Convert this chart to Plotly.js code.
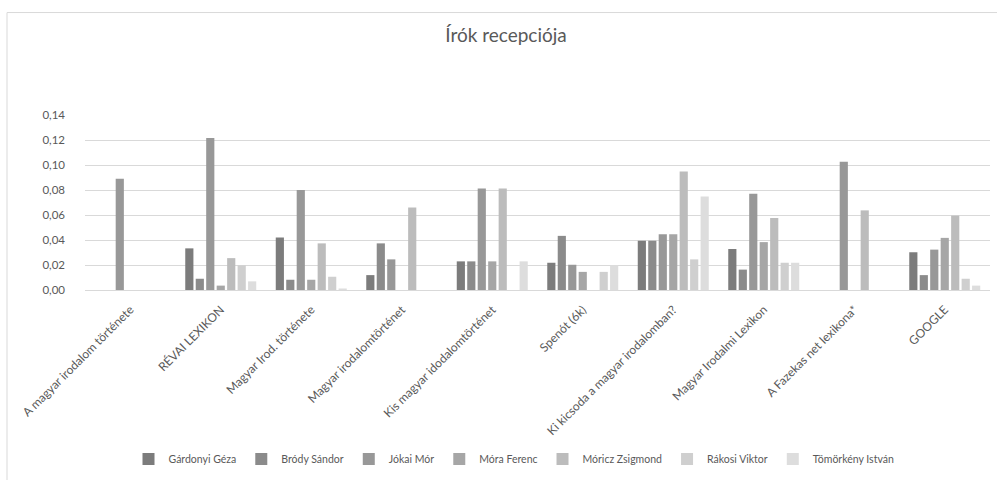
<!DOCTYPE html>
<html>
<head>
<meta charset="utf-8">
<script src="https://cdn.plot.ly/plotly-3.0.1.min.js"></script>
<style>html,body{margin:0;padding:0;background:#fff;}#chart{width:997px;height:480px;}</style>
</head>
<body>
<div id="chart"></div>
<script>
const categories = ["A magyar irodalom története","RÉVAI LEXIKON","Magyar Irod. története","Magyar irodalomtörténet","Kis magyar idodalomtörténet","Spenót (6k)","Ki kicsoda a magyar irodalomban?","Magyar Irodalmi Lexikon","A Fazekas net lexikona*","GOOGLE"];
const seriesNames = ["Gárdonyi Géza","Bródy Sándor","Jókai Mór","Móra Ferenc","Móricz Zsigmond","Rákosi Viktor","Tömörkény István"];
const gardonyi  = [null, 0.0333, 0.0420, 0.0119, 0.0229, 0.0218, 0.0394, 0.0328, null, 0.0302];
const brody     = [null, 0.0090, 0.0082, 0.0373, 0.0229, 0.0433, 0.0394, 0.0163, null, 0.0119];
const jokai     = [0.0890, 0.1217, 0.0799, 0.0245, 0.0812, 0.0202, 0.0446, 0.0770, 0.1026, 0.0323];
const mora      = [null, 0.0035, 0.0082, null, 0.0229, 0.0145, 0.0446, 0.0383, null, 0.0417];
const moricz    = [null, 0.0255, 0.0373, 0.0660, 0.0812, null, 0.0948, 0.0576, 0.0637, 0.0595];
const rakosi    = [null, 0.0198, 0.0106, null, null, 0.0145, 0.0245, 0.0218, null, 0.0090];
const tomorkeny = [null, 0.0069, 0.0012, null, 0.0229, 0.0198, 0.0747, 0.0218, null, 0.0035];
const seriesValues = [gardonyi, brody, jokai, mora, moricz, rakosi, tomorkeny];
const colors = ["#7c7c7c","#8b8b8b","#989898","#a6a6a6","#bcbcbc","#cfcfcf","#dddddd"];

const traces = seriesNames.map((name, i) => ({
  type: 'bar',
  name: name,
  x: categories,
  y: seriesValues[i],
  marker: {color: colors[i], line: {width: 0}},
  hoverinfo: 'x+y+name'
}));

const plotL = 85, plotR = 990, plotT = 115, plotB = 293.5, W = 997, H = 480;
const pw = plotR - plotL, ph = plotB - plotT;

const layout = {
  width: W, height: H,
  margin: {l: plotL, r: W - plotR, t: plotT, b: H - plotB, pad: 0},
  paper_bgcolor: '#ffffff',
  plot_bgcolor: '#ffffff',
  font: {family: 'Lato, "Open Sans", sans-serif', color: '#595959', size: 11},
  separators: ', ',
  title: {
    text: 'Írók recepciója',
    font: {family: 'Lato, "Open Sans", sans-serif', size: 19, color: '#595959'},
    x: 506 / W, xanchor: 'center', xref: 'container',
    y: 1 - 35 / H, yanchor: 'middle', yref: 'container'
  },
  barmode: 'group',
  bargap: 0.19,
  bargroupgap: 0.22,
  xaxis: {
    type: 'category',
    tickangle: -45,
    tickfont: {size: 12, color: '#595959'},
    showgrid: false,
    showline: true,
    linecolor: '#d9d9d9',
    linewidth: 1,
    ticks: '',
    ticklabelstandoff: 7,
    zeroline: false,
    fixedrange: true
  },
  yaxis: {
    range: [0, 0.14],
    dtick: 0.02,
    tick0: 0,
    tickformat: '.2f',
    tickfont: {size: 11.5, color: '#595959'},
    showgrid: true,
    gridcolor: '#d9d9d9',
    gridwidth: 1,
    zeroline: false,
    showline: false,
    ticks: '',
    ticklabelstandoff: 19,
    fixedrange: true
  },
  showlegend: true,
  legend: {
    orientation: 'h',
    x: (514 - plotL) / pw, xanchor: 'center',
    y: -(466 - plotB) / ph, yanchor: 'middle',
    font: {size: 10.5, color: '#595959'},
    itemwidth: 30,
    tracegroupgap: 0,
    bgcolor: 'rgba(0,0,0,0)'
  },
  shapes: [{
    type: 'rect', xref: 'paper', yref: 'paper',
    x0: (7 - plotL) / pw, x1: 2,
    y0: -3, y1: (plotB - 10.5) / ph,
    line: {color: '#d9d9d9', width: 1},
    fillcolor: 'rgba(0,0,0,0)',
    layer: 'below'
  }]
};

Plotly.newPlot('chart', traces, layout, {displayModeBar: false, staticPlot: true});
</script>
</body>
</html>
